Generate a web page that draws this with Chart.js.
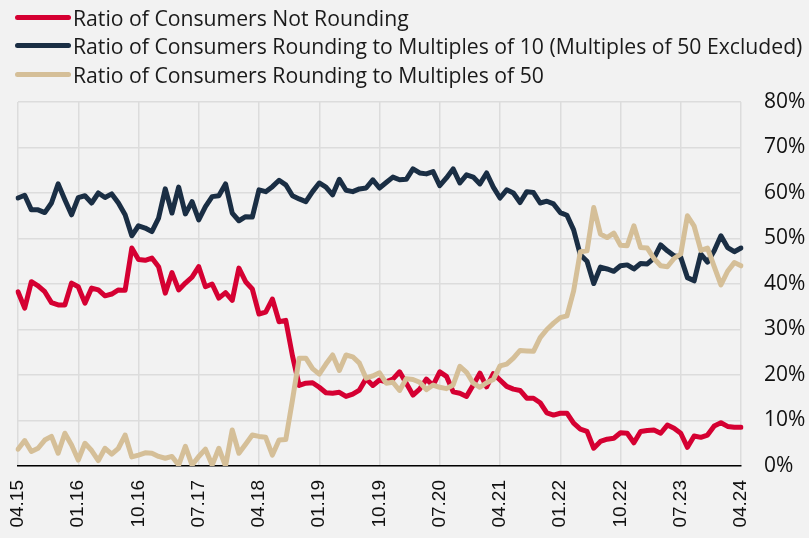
<!DOCTYPE html>
<html>
<head>
<meta charset="utf-8">
<script src="https://cdn.jsdelivr.net/npm/chart.js@4.4.1/dist/chart.umd.min.js"></script>
<style>
  html, body { margin: 0; padding: 0; background: #f2f2f2; }
  #wrap { position: relative; width: 809px; height: 538px; background: #f2f2f2; overflow: hidden; }
  #c { position: absolute; left: 0; top: 0; }
  #legend { position: absolute; left: 15px; top: 3px; font-family: "Open Sans", sans-serif; font-size: 21.2px; color: #1a1a1a; }
  .row { display: flex; align-items: center; height: 28.5px; white-space: nowrap; }
  .sw { width: 56px; height: 5px; border-radius: 3px; margin-right: 2px; }
</style>
</head>
<body>
<div id="wrap">
  <canvas id="c" width="809" height="538"></canvas>
  <div id="legend"></div>
</div>
<script>
// X tick labels shown on the axis (every 9 months)
const tickLabels = ['04.15','01.16','10.16','07.17','04.18','01.19','10.19','07.20','04.21','01.22','10.22','07.23','04.24'];

// Monthly categories 04.15 .. 04.24
const categories = [];
for (let y = 15; y <= 24; y++) {
  for (let m = 1; m <= 12; m++) {
    if (y === 15 && m < 4) continue;
    if (y === 24 && m > 4) continue;
    categories.push(String(m).padStart(2, '0') + '.' + y);
  }
}

const seriesNames = [
  'Ratio of Consumers Not Rounding',
  'Ratio of Consumers Rounding to Multiples of 10 (Multiples of 50 Excluded)',
  'Ratio of Consumers Rounding to Multiples of 50'
];

const notRounding = [
  38.3,34.7,40.5,39.6,38.3,35.9,35.4,35.4,40.2,39.4,35.8,39.1,38.7,37.4,37.8,38.7,38.6,47.9,45.4,45.2,
  45.7,43.8,38.0,42.5,38.7,40.2,41.5,43.8,39.4,40.0,36.9,38.1,36.4,43.5,40.5,38.9,33.4,33.8,36.7,31.7,
  32.0,24.2,17.7,18.2,18.3,17.3,16.1,16.0,16.2,15.3,15.8,16.7,19.2,17.7,18.9,18.5,19.1,20.7,18.2,15.6,
  16.9,19.1,17.7,20.7,19.7,16.3,16.0,15.3,17.8,20.4,17.4,20.3,18.9,17.5,16.9,16.6,14.9,14.9,13.9,11.7,
  11.2,11.6,11.6,9.4,8.1,7.6,3.9,5.4,5.9,6.1,7.3,7.2,5.1,7.6,7.8,7.9,7.2,9.0,8.3,7.2,
  4.1,6.6,6.3,6.8,8.8,9.5,8.7,8.5,8.5
];

const roundTo10 = [
  58.9,59.5,56.3,56.3,55.7,57.8,62.0,58.5,55.2,59.0,59.4,57.8,60.0,59.0,59.8,57.8,55.2,50.6,52.8,52.3,
  51.5,54.5,60.9,55.6,61.3,55.4,58.1,54.1,57.0,59.2,59.4,62.0,55.6,53.9,54.8,54.7,60.7,60.3,61.4,62.8,
  61.8,59.4,58.7,58.1,60.3,62.2,61.3,59.6,63.0,60.6,60.3,60.9,61.1,62.9,61.1,62.3,63.5,62.9,63.0,65.3,
  64.4,64.2,64.7,61.6,63.3,65.3,62.2,64.0,63.5,62.0,64.4,61.3,58.9,60.7,60.0,57.9,60.3,60.1,57.8,58.2,
  57.6,55.7,55.1,51.9,46.4,45.0,40.1,43.7,43.3,42.8,44.0,44.2,43.3,44.5,44.4,45.7,48.6,47.3,46.2,45.9,
  41.4,40.7,46.6,44.8,47.3,50.6,48.0,47.1,47.9
];

const roundTo50 = [
  3.7,5.6,3.2,3.9,5.7,6.5,2.8,7.2,4.6,1.3,5.0,3.4,1.2,3.9,2.6,3.9,6.8,2.0,2.4,2.9,
  2.8,2.1,1.7,2.1,0.2,4.3,0.2,2.1,3.7,0.2,3.9,0.0,7.9,2.8,4.8,6.8,6.5,6.3,2.4,5.7,
  5.8,14.5,23.7,23.7,21.4,20.2,22.4,24.4,21.0,24.4,24.0,22.6,19.3,19.8,20.5,18.2,18.4,16.6,19.2,19.0,
  18.4,16.8,17.8,17.3,17.0,17.8,21.9,20.6,18.2,17.3,18.3,19.0,22.0,22.4,23.7,25.4,25.3,25.2,28.2,30.0,
  31.4,32.6,33.0,38.5,47.1,47.3,56.8,51.0,50.2,51.2,48.5,48.4,52.8,48.0,47.9,45.6,44.0,43.8,45.6,46.6,
  55.0,52.7,47.4,47.9,43.8,39.8,42.8,44.7,44.0
];

const colors = ['#d50032', '#1a2e44', '#d5bf98'];
const seriesData = [notRounding, roundTo10, roundTo50];

// HTML legend
const legendEl = document.getElementById('legend');
seriesNames.forEach((n, i) => {
  const row = document.createElement('div');
  row.className = 'row';
  const sw = document.createElement('div');
  sw.className = 'sw';
  sw.style.background = colors[i];
  const t = document.createElement('span');
  t.textContent = n;
  row.appendChild(sw); row.appendChild(t);
  legendEl.appendChild(row);
});

const gridColor = '#dcdcdc';

new Chart(document.getElementById('c'), {
  type: 'line',
  data: {
    labels: categories,
    datasets: seriesData.map((d, i) => ({
      label: seriesNames[i],
      data: d,
      borderColor: colors[i],
      backgroundColor: colors[i],
      borderWidth: 5,
      pointRadius: 0,
      tension: 0,
      borderJoinStyle: 'round',
      borderCapStyle: 'round',
      order: i === 2 ? 0 : (i === 0 ? 1 : 2)
    }))
  },
  options: {
    responsive: false,
    animation: false,
    devicePixelRatio: 1,
    layout: { padding: { left: 18, top: 102, right: 0, bottom: 0 } },
    plugins: { legend: { display: false }, tooltip: { enabled: false } },
    scales: {
      x: {
        type: 'category',
        offset: false,
        grid: {
          drawTicks: false,
          color: ctx => (ctx.tick && tickLabels.includes(categories[ctx.index])) ? gridColor : 'rgba(0,0,0,0)',
          lineWidth: 1.5
        },
        border: { display: true, color: '#000', width: 1.5 },
        ticks: {
          autoSkip: false,
          minRotation: 90,
          maxRotation: 90,
          padding: 14,
          color: '#111',
          font: { family: 'Liberation Sans', size: 19 },
          callback: (v, idx) => tickLabels.includes(categories[idx]) ? categories[idx] : ''
        },
        afterFit: s => { s.height = 72; }
      },
      y: {
        position: 'right',
        min: 0,
        max: 80,
        grid: { drawTicks: false, color: gridColor, lineWidth: 1.5 },
        border: { display: false },
        ticks: {
          stepSize: 10,
          padding: 23,
          color: '#111',
          font: { family: 'Open Sans', size: 21 },
          callback: v => v + '%'
        },
        afterFit: s => { s.width = 68; }
      }
    }
  }
});
</script>
</body>
</html>
